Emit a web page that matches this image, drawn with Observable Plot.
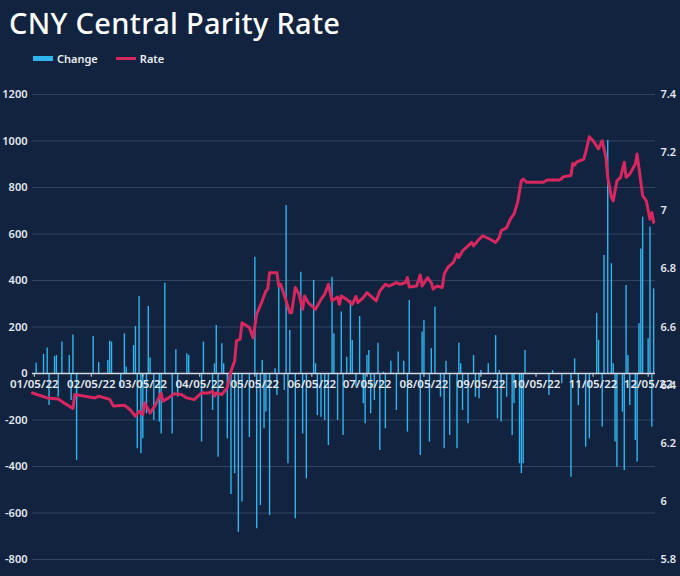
<!DOCTYPE html>
<html><head><meta charset="utf-8">
<script src="https://cdn.jsdelivr.net/npm/d3@7"></script>
<script src="https://cdn.jsdelivr.net/npm/@observablehq/plot@0.6"></script>
<style>
html,body{margin:0;padding:0;background:#12233f;}
body{width:680px;height:576px;overflow:hidden;position:relative;font-family:"Noto Sans",sans-serif;}
#title{position:absolute;left:9px;top:3px;color:#ffffff;font-size:29px;font-weight:500;white-space:nowrap;letter-spacing:0.3px;}
#legend{position:absolute;left:33px;top:51px;color:#e8edf2;font-size:11px;font-weight:600;display:flex;align-items:center;white-space:nowrap;}
#legend .sw{display:inline-block;width:20px;margin-right:4px;}
#chart{position:absolute;left:0;top:75px;}
</style></head>
<body>
<div id="title">CNY Central Parity Rate</div>
<div id="legend"><span class="sw" style="height:5px;background:#2fb4ee"></span><span>Change</span><span class="sw" style="height:3px;background:#d6275f;margin-left:18px"></span><span>Rate</span></div>
<div id="chart"></div>
<script>
const changeTicks = [-800,-600,-400,-200,0,200,400,600,800,1000,1200];
const rateTicks = [5.8,6,6.2,6.4,6.6,6.8,7,7.2,7.4];
const xTickDates = ["01-05","02-05","03-05","04-05","05-05","06-05","07-05","08-05","09-05","10-05","11-05","12-05"];

const changeDates = ["01-06","01-10","01-12","01-13","01-16","01-17","01-18","01-20","01-24","01-25","01-26","01-28",
"02-06","02-09","02-14","02-15","02-16","02-21","02-23","02-24","02-28",
"03-01","03-02","03-03","03-04","03-05","03-07","03-08","03-09","03-11","03-14","03-15","03-17","03-21","03-23","03-24","03-29","03-30",
"04-06","04-07","04-12","04-13","04-14","04-15","04-17","04-18","04-20","04-22","04-24","04-26","04-28",
"05-02","05-05","05-06","05-08","05-09","05-10","05-11","05-13","05-16","05-17","05-18","05-21","05-22","05-23","05-24","05-27","05-30","05-31",
"06-02","06-06","06-07","06-08","06-10","06-12","06-14","06-16","06-17","06-19","06-21","06-22","06-24","06-26","06-27","06-29",
"07-01","07-03","07-04","07-05","07-06","07-07","07-09","07-11","07-12","07-14","07-15","07-18","07-21","07-22","07-25","07-27","07-28",
"08-03","08-04","08-05","08-08","08-09","08-11","08-14","08-16","08-17","08-19","08-23","08-24","08-25","08-26","08-29",
"09-01","09-02","09-04","09-05","09-09","09-13","09-14","09-15","09-16","09-19","09-22","09-23","09-26","09-27","09-28","09-29",
"10-12","10-14","10-19","10-24","10-26","10-28",
"11-01","11-03","11-07","11-08","11-10","11-11","11-13","11-15","11-16","11-17","11-18","11-21","11-22","11-23","11-24","11-25","11-28","11-29","11-30",
"12-01","12-02","12-05","12-06","12-07","12-08"];
const changeValues = [44,82,110,-138,73,77,-102,135,77,-116,166,-374,
159,47,56,139,135,-58,171,27,120,
202,-324,331,-345,-281,-173,288,67,-202,-209,-260,388,-260,102,-102,85,77,
-295,135,-159,42,206,-360,128,42,-281,-520,-431,-683,-553,
-275,500,-668,-568,56,-238,-166,-611,20,-95,371,-73,723,-388,185,-625,436,-260,
-453,400,42,-181,-188,-202,-310,414,171,-202,264,-267,70,314,142,-59,
245,-130,-216,77,99,-173,-116,130,-331,6,-238,53,-159,92,53,-252,314,
-353,178,228,-295,106,285,-102,-324,53,-267,-324,130,42,-159,-216,
77,-102,-109,13,42,163,-195,13,-209,-102,-267,-130,-388,-431,-388,99,
-95,13,-44,-446,63,-138,
-317,-281,259,143,-230,508,1002,472,42,-295,-403,-166,-417,378,77,-138,-288,-381,214,
536,672,149,629,-231,364];

const rateDates = ["01-04","01-12","01-18","01-21","01-26","01-27","02-07","02-09","02-15","02-17","02-23","02-26",
"03-01","03-03","03-05","03-06","03-09","03-12","03-15","03-16","03-19","03-22","03-26","03-29",
"04-02","04-06","04-10","04-12","04-13","04-14","04-17","04-20","04-22","04-24","04-25","04-27","04-28",
"05-02","05-04","05-06","05-09","05-11","05-12","05-13","05-17","05-18","05-19","05-22","05-24","05-25","05-27","05-29","05-31",
"06-01","06-03","06-07","06-10","06-12","06-14","06-16","06-19","06-20","06-21","06-24","06-27","06-29","06-30",
"07-03","07-05","07-08","07-10","07-12","07-15","07-17","07-19","07-21","07-23","07-26","07-27","07-28",
"08-01","08-03","08-04","08-07","08-09","08-10","08-12","08-15","08-16","08-18","08-21","08-23","08-24","08-26","08-29","08-31",
"09-01","09-04","09-06","09-10","09-13","09-15","09-16","09-19","09-21","09-23","09-25","09-27","09-28","09-30",
"10-09","10-11","10-18","10-20","10-24","10-25","10-26","10-27","10-31",
"11-01","11-03","11-05","11-08","11-10","11-12","11-13","11-15","11-16","11-18","11-20","11-22","11-23","11-25","11-28","11-29",
"12-02","12-04","12-06","12-07","12-08"];
const rateValues = [6.373,6.356,6.352,6.339,6.320,6.368,6.356,6.362,6.351,6.328,6.331,6.316,
6.293,6.310,6.299,6.339,6.304,6.333,6.373,6.345,6.356,6.370,6.368,6.356,
6.350,6.373,6.373,6.379,6.362,6.373,6.368,6.391,6.448,6.483,6.552,6.558,6.615,
6.598,6.563,6.644,6.690,6.724,6.730,6.787,6.787,6.741,6.747,6.690,6.649,6.649,6.736,6.713,6.661,
6.707,6.684,6.661,6.695,6.713,6.747,6.690,6.703,6.678,6.707,6.695,6.678,6.705,6.684,
6.701,6.718,6.701,6.690,6.724,6.747,6.741,6.747,6.753,6.747,6.753,6.770,6.738,
6.741,6.779,6.741,6.770,6.753,6.730,6.741,6.736,6.782,6.805,6.822,6.851,6.839,6.862,6.879,6.891,
6.879,6.902,6.914,6.902,6.891,6.908,6.931,6.942,6.971,6.989,7.029,7.103,7.109,7.098,
7.098,7.106,7.106,7.117,7.121,7.163,7.157,7.167,7.178,
7.201,7.255,7.241,7.213,7.241,7.184,7.115,7.046,7.034,7.103,7.115,7.167,7.115,7.126,7.161,7.195,
7.052,7.034,6.971,6.994,6.960];

const parse = s => new Date("2022-" + s + "T00:00:00Z");
const changes = changeDates.map((d, i) => ({date: parse(d), value: changeValues[i]}));
const rates = rateDates.map((d, i) => ({date: parse(d), rate: rateValues[i]}));
const ticks = xTickDates.map(parse);

const cMin = -800, cMax = 1200, rMin = 5.8, rMax = 7.4;
const toY = r => (r - rMin) / (rMax - rMin) * (cMax - cMin) + cMin;
const fromY = v => (v - cMin) / (cMax - cMin) * (rMax - rMin) + rMin;
const fmtDate = d3.utcFormat("%m/%d/%y");

const textColor = "#e3e8ee";
const chart = Plot.plot({
  width: 680, height: 501,
  marginLeft: 32, marginRight: 25, marginTop: 19, marginBottom: 17,
  style: {background: "transparent", color: textColor, fontFamily: "Noto Sans, sans-serif", fontSize: "11px"},
  x: {type: "utc", domain: [parse("01-04"), parse("12-09")], axis: null, label: null},
  y: {domain: [cMin, cMax], label: null},
  marks: [
    Plot.gridY(changeTicks, {stroke: "#2f4462", strokeOpacity: 1, strokeWidth: 1}),
    Plot.axisY(changeTicks, {anchor: "left", tickSize: 0, tickPadding: 5, fontWeight: 600, fill: textColor, label: null,
      tickFormat: v => String(v)}),
    Plot.axisY(rateTicks.map(toY), {anchor: "right", tickSize: 0, tickPadding: 5, fontWeight: 600, fill: textColor, label: null,
      tickFormat: v => String(+fromY(v).toFixed(1))}),
    Plot.ruleX(changes, {x: "date", y1: 0, y2: "value", stroke: "#2fb4ee", strokeWidth: 1.4}),
    Plot.ruleY([0], {stroke: "#d2d9e2", strokeWidth: 1.5}),
    Plot.ruleX(ticks, {x: d => d, y1: 0, y2: -16, stroke: "#d2d9e2", strokeWidth: 1}),
    Plot.text(ticks, {x: d => d, y: 0, text: d => fmtDate(d), dy: 11, fill: textColor, fontWeight: 600, fontSize: 11.5}),
    Plot.line(rates, {x: "date", y: d => toY(d.rate), stroke: "#d6275f", strokeWidth: 3, strokeLinejoin: "round"})
  ]
});
document.getElementById("chart").appendChild(chart);
</script>
</body></html>
